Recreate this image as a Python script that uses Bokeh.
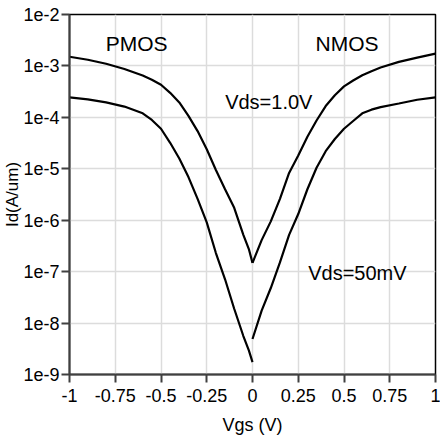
from bokeh.plotting import figure
from bokeh.models import FixedTicker
from bokeh.core.properties import value
from bokeh.embed import file_html
from bokeh.resources import INLINE

# Vgs values (V)
vgs_p = [-1.0, -0.9, -0.8, -0.7, -0.6, -0.55, -0.5, -0.45, -0.4, -0.35, -0.3, -0.25, -0.2, -0.15,
         -0.1, -0.05, -0.02, 0.0]
vgs_n_hi = [0.0, 0.05, 0.1, 0.15, 0.2, 0.25, 0.3, 0.35, 0.4, 0.45, 0.5, 0.55, 0.6, 0.65, 0.7,
            0.8, 0.9, 1.0]
vgs_n_lo = [0.0, 0.05, 0.1, 0.15, 0.2, 0.25, 0.3, 0.35, 0.4, 0.45, 0.5, 0.55, 0.6, 0.65, 0.7,
            0.8, 0.9, 1.0]

# Id (A/um)
pmos_vds_1v = [1.51e-3, 1.32e-3, 1.10e-3, 8.7e-4, 6.5e-4, 5.4e-4, 4.3e-4, 3.0e-4, 1.95e-4,
               1.07e-4, 5.4e-5, 2.4e-5, 9.5e-6, 4.0e-6, 1.74e-6, 5.2e-7, 2.75e-7, 1.48e-7]
pmos_vds_50mv = [2.45e-4, 2.24e-4, 1.95e-4, 1.62e-4, 1.20e-4, 8.9e-5, 6.0e-5, 3.2e-5, 1.58e-5,
                 6.9e-6, 2.6e-6, 9.1e-7, 2.3e-7, 7.1e-8, 1.9e-8, 5.6e-9, 2.95e-9, 1.74e-9]
nmos_vds_1v = [1.48e-7, 4.1e-7, 9.5e-7, 2.6e-6, 8.3e-6, 1.82e-5, 4.2e-5, 8.7e-5, 1.66e-4,
               2.7e-4, 4.0e-4, 5.2e-4, 6.6e-4, 7.9e-4, 9.3e-4, 1.20e-3, 1.45e-3, 1.74e-3]
nmos_vds_50mv = [4.9e-9, 1.74e-8, 4.8e-8, 1.51e-7, 5.2e-7, 1.32e-6, 4.0e-6, 1.05e-5, 2.2e-5,
                 3.8e-5, 6.0e-5, 8.5e-5, 1.20e-4, 1.41e-4, 1.58e-4, 1.86e-4, 2.2e-4, 2.45e-4]

x_ticks = [-1, -0.75, -0.5, -0.25, 0, 0.25, 0.5, 0.75, 1]
x_tick_labels = ["-1", "-0.75", "-0.5", "-0.25", "0", "0.25", "0.5", "0.75", "1"]
y_ticks = [1e-9, 1e-8, 1e-7, 1e-6, 1e-5, 1e-4, 1e-3, 1e-2]
y_tick_labels = ["1e-9", "1e-8", "1e-7", "1e-6", "1e-5", "1e-4", "1e-3", "1e-2"]

big_labels = ["PMOS", "NMOS"]
big_x = [-0.633, 0.517]
big_y = [2.75e-3, 2.75e-3]
vds_labels = ["Vds=1.0V", "Vds=50mV"]
vds_x = [0.089, 0.573]
vds_y = [1.97e-4, 9.5e-8]

FONT = "Liberation Sans"

p = figure(width=440, height=443, x_range=(-1, 1), y_range=(1e-9, 1e-2),
           y_axis_type="log", output_backend="svg", toolbar_location=None,
           min_border_left=68, min_border_right=5, min_border_top=14, min_border_bottom=69)
p.background_fill_color = "white"
p.border_fill_color = "white"
p.outline_line_color = "black"
p.outline_line_width = 1.5

p.xaxis.ticker = FixedTicker(ticks=x_ticks)
p.xaxis.major_label_overrides = {t: l for t, l in zip(x_ticks, x_tick_labels)}
p.yaxis.ticker = FixedTicker(ticks=y_ticks, minor_ticks=[])
p.yaxis.major_label_overrides = {t: l for t, l in zip(y_ticks, y_tick_labels)}

for ax in (p.xaxis[0], p.yaxis[0]):
    ax.axis_line_color = "#404040"
    ax.axis_line_width = 2
    ax.major_tick_line_color = "#404040"
    ax.major_tick_line_width = 2
    ax.major_tick_out = 8
    ax.major_tick_in = 0
    ax.minor_tick_line_color = None
    ax.major_label_text_font = FONT
    ax.major_label_text_font_size = "18px"
    ax.major_label_text_color = "black"
    ax.axis_label_text_font = FONT
    ax.axis_label_text_font_style = "normal"
    ax.axis_label_text_color = "black"

p.xaxis.major_label_standoff = 6
p.yaxis.major_label_standoff = 2
p.xaxis.axis_label = "Vgs (V)"
p.xaxis.axis_label_text_font_size = "18px"
p.xaxis.axis_label_standoff = 10
p.yaxis.axis_label = "Id(A/um)"
p.yaxis.axis_label_text_font_size = "17px"
p.yaxis.axis_label_standoff = -2

p.xgrid.grid_line_color = "#dcdcdc"
p.ygrid.grid_line_color = "#dcdcdc"
p.xgrid.grid_line_width = 1.5
p.ygrid.grid_line_width = 1.5

for xs, ys in ((vgs_p, pmos_vds_1v), (vgs_p, pmos_vds_50mv),
               (vgs_n_hi, nmos_vds_1v), (vgs_n_lo, nmos_vds_50mv)):
    p.line(xs, ys, line_color="black", line_width=2.2)

p.text(x=big_x, y=big_y, text=big_labels, text_font=value(FONT), text_font_size="21px",
       text_align="center", text_baseline="alphabetic", text_color="black")
p.text(x=vds_x, y=vds_y, text=vds_labels, text_font=value(FONT), text_font_size="20px",
       text_align="center", text_baseline="alphabetic", text_color="black")

open("out.html", "w").write(file_html(p, INLINE))
